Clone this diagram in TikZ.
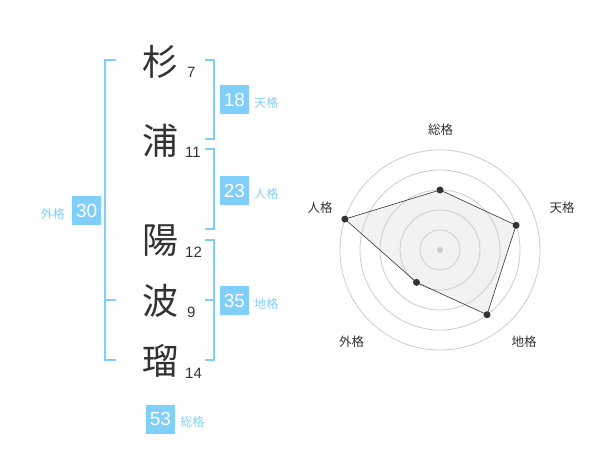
\documentclass[tikz,border=0pt]{standalone}
\usepackage{fontspec}
\setmainfont{Liberation Sans}
\newfontfamily\jp{Noto Sans CJK JP}
\usetikzlibrary{positioning}
\definecolor{kblue}{HTML}{80CFFA}
\definecolor{kgray}{HTML}{333333}
\definecolor{kring}{HTML}{CCCCCC}
\definecolor{kfill}{HTML}{F2F2F2}
\begin{document}
\begin{tikzpicture}[x=1pt, y=-1pt]
    \tikzstyle{every node}=[inner sep=0pt, text=kgray]
    \tikzset{
        ch/.style={font=\jp\fontsize{36}{36}\selectfont},
        num/.style={anchor=base west, font=\fontsize{15}{15}\selectfont},
        box/.style={fill=kblue, text=white, minimum size=29pt, font=\fontsize{19}{19}\selectfont},
        lab/.style={text=kblue, font=\jp\fontsize{12}{12}\selectfont},
        br/.style={draw=kblue, line width=2pt},
        rl/.style={font=\jp\fontsize{12.5}{12.5}\selectfont},
        ring/.style={draw=kring, line width=0.8pt},
        dot/.style={circle, fill=kgray, minimum size=7pt}
        }
    \useasboundingbox (0,0) rectangle (600,470);

    %name
    \node (sugi) [ch] at (160,62) {杉};
    \node (ura)  [ch] at (160,141) {浦};
    \node (hi)   [ch] at (160,241) {陽};
    \node (ha)   [ch] at (160,301) {波};
    \node (ru)   [ch] at (160,361) {瑠};

    %strokes
    \node (n7)  [num] at (187,78) {7};
    \node (n11) [num] at (185,158) {11};
    \node (n12) [num] at (185,258) {12};
    \node (n9)  [num] at (187,318) {9};
    \node (n14) [num] at (185,378) {14};

    %brackets
    \coordinate (gtop) at (116,60);
    \coordinate (gmid) at (116,300);
    \coordinate (gbot) at (116,360);
    \draw[br] (gtop) -- ++(-11,0) |- (gbot);
    \draw[br] (gmid) -- ++(-11,0);

    \coordinate (ttop) at (205,60);
    \coordinate (tbot) at (205,139);
    \draw[br] (ttop) -- ++(9,0) |- (tbot);

    \coordinate (jtop) at (205,149);
    \coordinate (jbot) at (205,229);
    \draw[br] (jtop) -- ++(9,0) |- (jbot);

    \coordinate (ctop) at (205,240);
    \coordinate (cmid) at (205,300);
    \coordinate (cbot) at (205,360);
    \draw[br] (ctop) -- ++(9,0) |- (cbot);
    \draw[br] (cmid) -- ++(9,0);

    %scores
    \node (b18) [box] at (234.5,100) {18};
    \node (t18) [lab, right=5pt of b18, yshift=-3pt] {天格};
    \node (b23) [box] at (234.5,190.5) {23};
    \node (t23) [lab, right=5pt of b23, yshift=-3pt] {人格};
    \node (b35) [box] at (234.5,300.5) {35};
    \node (t35) [lab, right=5pt of b35, yshift=-3pt] {地格};
    \node (b30) [box] at (86.7,210.5) {30};
    \node (t30) [lab, left=7pt of b30, yshift=-3pt] {外格};
    \node (b53) [box] at (160.5,419) {53};
    \node (t53) [lab, right=5pt of b53, yshift=-3pt] {総格};

    %radar
    \begin{scope}[shift={(440,250)}, y=1pt]
        \coordinate (pS) at (90:60);
        \coordinate (pT) at (18:80);
        \coordinate (pC) at (-54:80);
        \coordinate (pG) at (234:40);
        \coordinate (pJ) at (162:100);
        \fill[kfill] (pS) -- (pT) -- (pC) -- (pG) -- (pJ) -- cycle;

        \foreach \r in {20,40,...,100}
            \draw[ring] (0,0) circle (\r);
        \fill[kring] (0,0) circle (3);

        \draw[kgray, line width=0.6pt]
            (pS) -- (pT) -- (pC) -- (pG) -- (pJ) -- cycle;
        \foreach \p in {pS,pT,pC,pG,pJ}
            \node (d\p) [dot] at (\p) {};

        \node (rS) [rl] at (0.7,120) {総格};
        \node (rT) [rl] at (122,42) {天格};
        \node (rJ) [rl] at (-120,42) {人格};
        \node (rG) [rl] at (-88.3,-91.7) {外格};
        \node (rC) [rl] at (84,-91.7) {地格};
    \end{scope}
\end{tikzpicture}
\end{document}
